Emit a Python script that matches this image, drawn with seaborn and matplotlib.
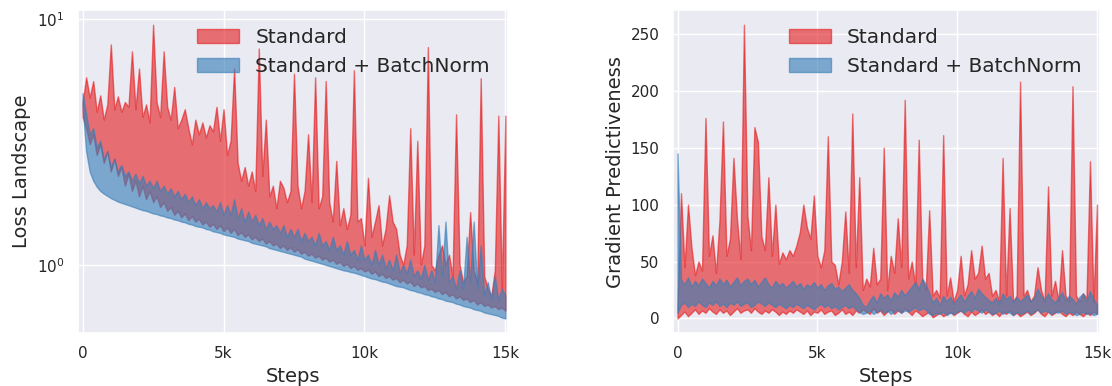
import numpy as np
import matplotlib
matplotlib.use("Agg")
import matplotlib.pyplot as plt
import seaborn as sns

# training steps (one reading every 125 steps)
steps = np.arange(0, 15001, 125)
step_ticks = [0, 5000, 10000, 15000]
step_labels = ["0", "5k", "10k", "15k"]

# ---- loss landscape (left) ----
loss_std_hi = [
    4.6, 5.8, 4.8, 5.6, 4.2, 4.9, 3.9, 4.5, 7.9, 4.3,
    4.85, 4.2, 4.6, 4.4, 7.4, 4.3, 6.3, 4.0, 4.5, 3.8,
    9.5, 4.6, 4.0, 7.4, 4.4, 3.9, 5.3, 3.6, 3.9, 4.3,
    3.6, 3.1, 3.9, 3.4, 3.8, 3.3, 3.7, 3.5, 4.4, 3.2,
    4.3, 2.8, 3.2, 6.3, 2.6, 2.2, 2.5, 2.1, 2.4, 2.0,
    7.6, 2.3, 3.9, 1.9, 2.1, 1.7, 2.2, 2.06, 1.8, 2.0,
    6.0, 2.1, 1.7, 2.0, 3.4, 1.8, 5.8, 1.7, 1.9, 5.6,
    1.8, 1.5, 2.65, 1.45, 1.7, 1.4, 1.6, 6.2, 1.5, 1.55,
    1.2, 2.26, 1.3, 1.5, 1.75, 1.2, 1.4, 1.92, 1.5, 1.4,
    1.1, 1.0, 1.2, 3.6, 1.1, 3.2, 1.0, 1.2, 7.7, 1.0,
    0.95, 1.1, 1.2, 1.0, 1.1, 0.9, 4.1, 1.0, 0.85, 0.9,
    1.64, 0.95, 0.85, 5.75, 0.9, 0.8, 0.75, 0.95, 4.05, 0.8,
    4.05,
]
loss_std_lo = [
    4.0, 3.6, 3.1, 3.4, 2.8, 3.1, 2.6, 2.9, 2.4, 2.7,
    2.3, 2.5, 2.1, 2.35, 2.0, 2.2, 1.9, 2.1, 1.85, 2.0,
    1.8, 1.9, 1.72, 1.8, 1.66, 1.72, 1.6, 1.66, 1.56, 1.62,
    1.52, 1.58, 1.5, 1.54, 1.46, 1.5, 1.43, 1.47, 1.4, 1.45,
    1.37, 1.42, 1.35, 1.4, 1.32, 1.36, 1.3, 1.33, 1.27, 1.3,
    1.25, 1.28, 1.22, 1.25, 1.2, 1.22, 1.17, 1.2, 1.15, 1.18,
    1.13, 1.16, 1.11, 1.13, 1.09, 1.11, 1.07, 1.09, 1.05, 1.07,
    1.03, 1.05, 1.01, 1.03, 0.99, 1.01, 0.97, 0.99, 0.955, 0.97,
    0.94, 0.955, 0.92, 0.94, 0.9, 0.92, 0.885, 0.9, 0.87, 0.885,
    0.85, 0.87, 0.84, 0.855, 0.82, 0.84, 0.81, 0.82, 0.79, 0.8,
    0.775, 0.79, 0.76, 0.775, 0.745, 0.76, 0.73, 0.745, 0.72, 0.73,
    0.705, 0.72, 0.69, 0.705, 0.68, 0.69, 0.67, 0.68, 0.66, 0.67,
    0.65,
]
loss_bn_hi = [
    5.0, 4.1, 3.4, 3.6, 3.0, 3.2, 2.7, 2.9, 2.5, 2.7,
    2.4, 2.55, 2.3, 2.4, 2.2, 2.35, 2.15, 2.3, 2.1, 2.2,
    2.05, 2.2, 2.0, 2.1, 1.95, 2.05, 1.9, 2.0, 1.85, 1.95,
    1.8, 1.9, 1.75, 1.85, 1.7, 1.8, 1.7, 1.75, 1.65, 1.8,
    1.6, 1.75, 1.6, 1.85, 1.55, 1.7, 1.5, 1.65, 1.5, 1.6,
    1.45, 1.55, 1.4, 1.5, 1.4, 1.45, 1.35, 1.45, 1.3, 1.4,
    1.3, 1.4, 1.25, 1.35, 1.25, 1.3, 1.2, 1.35, 1.2, 1.25,
    1.15, 1.3, 1.15, 1.2, 1.1, 1.25, 1.1, 1.15, 1.05, 1.2,
    1.05, 1.1, 1.0, 1.15, 1.0, 1.1, 0.97, 1.05, 0.95, 1.1,
    0.93, 1.0, 0.92, 1.05, 0.9, 0.95, 0.88, 1.0, 0.87, 0.95,
    0.85, 1.45, 0.9, 1.5, 0.85, 0.9, 0.8, 0.95, 0.8, 1.3,
    0.85, 1.5, 0.8, 1.2, 0.75, 0.85, 0.72, 0.9, 0.72, 0.8,
    0.75,
]
loss_bn_lo = [
    4.4, 2.9, 2.4, 2.2, 2.08, 2.0, 1.95, 1.91, 1.87, 1.84,
    1.81, 1.79, 1.77, 1.75, 1.73, 1.71, 1.69, 1.67, 1.66, 1.64,
    1.62, 1.61, 1.59, 1.58, 1.56, 1.55, 1.53, 1.52, 1.50, 1.49,
    1.47, 1.46, 1.44, 1.43, 1.42, 1.40, 1.39, 1.37, 1.36, 1.35,
    1.33, 1.32, 1.31, 1.30, 1.28, 1.27, 1.26, 1.25, 1.23, 1.22,
    1.21, 1.20, 1.19, 1.17, 1.16, 1.15, 1.14, 1.13, 1.12, 1.11,
    1.10, 1.09, 1.08, 1.06, 1.05, 1.04, 1.03, 1.02, 1.01, 1.00,
    0.99, 0.98, 0.97, 0.96, 0.95, 0.945, 0.935, 0.93, 0.92, 0.91,
    0.90, 0.89, 0.88, 0.875, 0.865, 0.855, 0.85, 0.84, 0.83, 0.82,
    0.815, 0.81, 0.80, 0.79, 0.785, 0.775, 0.77, 0.76, 0.755, 0.745,
    0.74, 0.73, 0.725, 0.715, 0.71, 0.705, 0.695, 0.69, 0.68, 0.675,
    0.67, 0.66, 0.655, 0.65, 0.64, 0.635, 0.63, 0.625, 0.62, 0.61,
    0.605,
]

# ---- gradient predictiveness (right) ----
grad_std_hi = [
    10, 110, 45, 100, 62, 38, 50, 42, 176, 55,
    73, 40, 86, 173, 55, 70, 141, 88, 52, 258,
    90, 60, 168, 155, 72, 60, 124, 55, 100, 48,
    58, 52, 60, 55, 64, 76, 100, 80, 70, 108,
    55, 45, 60, 160, 50, 47, 30, 50, 94, 40,
    180, 45, 124, 25, 35, 28, 62, 30, 35, 150,
    25, 55, 40, 88, 45, 192, 35, 50, 30, 157,
    35, 25, 95, 20, 25, 18, 161, 20, 36, 15,
    25, 55, 20, 30, 60, 35, 40, 64, 35, 40,
    20, 25, 15, 141, 20, 97, 15, 20, 208, 20,
    25, 15, 20, 45, 25, 15, 116, 20, 33, 15,
    60, 20, 15, 204, 20, 15, 22, 18, 138, 15,
    100,
]
grad_std_lo = [
    0, 3, 6, 2, 5, 8, 4, 7, 5, 9,
    6, 4, 8, 5, 7, 3, 6, 9, 5, 7,
    8, 5, 9, 6, 4, 7, 5, 8, 6, 3,
    6, 4, 7, 5, 8, 6, 4, 7, 3, 6,
    5, 8, 4, 6, 7, 3, 5, 8, 4, 6,
    3, 7, 5, 8, 6, 4, 9, 5, 7, 3,
    6, 8, 4, 7, 5, 9, 6, 3, 7, 5,
    2, 4, 6, 1, 3, 5, 2, 4, 6, 3,
    5, 7, 4, 2, 6, 3, 5, 8, 4, 6,
    3, 5, 2, 6, 4, 7, 3, 5, 2, 4,
    6, 3, 5, 8, 4, 2, 6, 3, 5, 7,
    4, 2, 5, 3, 6, 4, 2, 5, 3, 6,
    4,
]
grad_bn_hi = [
    145, 34, 30, 36, 28, 33, 29, 35, 31, 27,
    33, 29, 35, 30, 34, 28, 32, 36, 29, 33,
    35, 30, 34, 28, 32, 36, 30, 27, 33, 29,
    31, 27, 30, 33, 28, 31, 26, 30, 28, 32,
    27, 30, 25, 29, 31, 26, 28, 24, 27, 30,
    25, 22, 18, 12, 10, 16, 20, 14, 22, 18,
    21, 16, 23, 19, 25, 20, 24, 28, 32, 26,
    35, 30, 22, 14, 18, 12, 20, 15, 19, 13,
    17, 21, 15, 20, 24, 18, 26, 22, 19, 16,
    14, 18, 13, 22, 17, 20, 14, 19, 15, 18,
    21, 15, 18, 26, 20, 16, 22, 17, 14, 19,
    23, 16, 20, 17, 13, 19, 22, 15, 24, 17,
    12,
]
grad_bn_lo = [
    5, 12, 14, 10, 13, 11, 15, 12, 10, 14,
    12, 15, 11, 13, 10, 14, 12, 15, 11, 13,
    14, 10, 12, 15, 13, 11, 14, 12, 10, 13,
    11, 9, 12, 10, 13, 11, 9, 12, 10, 8,
    11, 13, 10, 12, 9, 11, 8, 10, 12, 9,
    11, 8, 6, 4, 5, 7, 4, 6, 8, 5,
    7, 4, 6, 8, 5, 7, 6, 8, 10, 7,
    9, 8, 4, 3, 5, 4, 6, 3, 5, 4,
    6, 7, 5, 8, 6, 9, 7, 5, 8, 6,
    4, 5, 7, 4, 6, 5, 3, 6, 4, 5,
    7, 4, 6, 8, 5, 7, 6, 4, 6, 5,
    7, 4, 6, 5, 3, 4, 6, 4, 5, 3,
    4,
]

sns.set_theme(style="darkgrid")
pal = sns.color_palette("Set1")
red, blue = pal[0], pal[1]

fig = plt.figure(figsize=(11.12, 3.86), dpi=100)
ax1 = fig.add_axes([0.070, 0.137, 0.387, 0.837])
ax2 = fig.add_axes([0.605, 0.137, 0.384, 0.837])

panels = [
    (ax1, loss_std_lo, loss_std_hi, loss_bn_lo, loss_bn_hi, "Loss Landscape"),
    (ax2, grad_std_lo, grad_std_hi, grad_bn_lo, grad_bn_hi, "Gradient Predictiveness"),
]

for ax, s_lo, s_hi, b_lo, b_hi, ylabel in panels:
    ax.fill_between(steps, s_lo, s_hi, color=red, alpha=0.6, label="Standard")
    ax.fill_between(steps, b_lo, b_hi, color=blue, alpha=0.62,
                    label="Standard + BatchNorm")
    ax.set_xlim(-170, 15100)
    ax.set_xticks(step_ticks)
    ax.set_xticklabels(step_labels)
    ax.set_xlabel("Steps", fontsize=14)
    ax.set_ylabel(ylabel, fontsize=14)
    ax.tick_params(labelsize=11)
    ax.legend(loc="upper right", frameon=False, fontsize=14.5, handlelength=2.1)

ax1.set_yscale("log")
ax2.set_yticks([0, 50, 100, 150, 200, 250])

fig.savefig("out.png", dpi=100)
